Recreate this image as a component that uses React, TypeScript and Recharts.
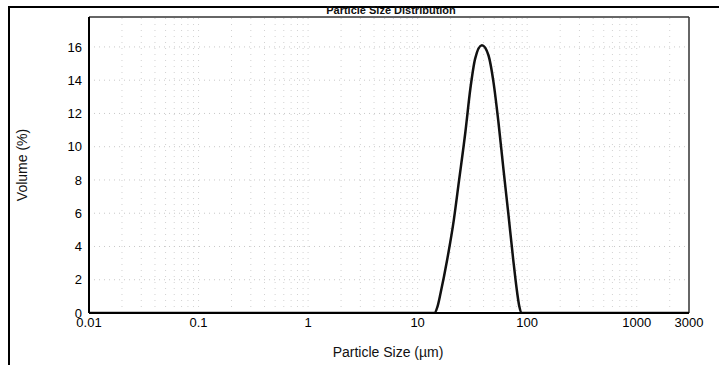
import {
  LineChart,
  Line,
  XAxis,
  YAxis,
  ReferenceLine,
} from "recharts";

// particle size (µm) vs volume (%)
const sizes = [
  0.01, 0.1, 1, 10, 14.2, 15.2, 16.2, 18.6, 21.4, 23.8, 27.3, 30.3, 33.5,
  38.6, 44.3, 49.2, 54.6, 60.6, 67.2, 74.6, 81.1, 84.7, 88.7, 100, 1000, 3000,
];
const volumes = [
  0, 0, 0, 0, 0, 0.4, 1.2, 3.2, 5.6, 7.9, 10.9, 13.5, 15.3, 16.1, 15.5, 13.9,
  11.5, 8.7, 6.0, 3.2, 1.2, 0.4, 0, 0, 0, 0,
];

const xTicks = [0.01, 0.1, 1, 10, 100, 1000, 3000];
const yTicks = [0, 2, 4, 6, 8, 10, 12, 14, 16];
const yMax = 17.8;

// faint dotted grid: every minor log step and every even volume
const minorX = [0.01, 0.1, 1, 10, 100, 1000].flatMap((d) =>
  [1, 2, 3, 4, 5, 6, 7, 8, 9].map((m) => +(d * m).toPrecision(3))
).filter((v) => v > 0.01 && v < 3000);
const gridY = [2, 4, 6, 8, 10, 12, 14, 16];

const data = sizes.map((s, i) => ({ size: s, volume: volumes[i] }));

const font = "'Liberation Sans', Arial, sans-serif";
const tickStyle = { fontSize: 13, fill: "#000", fontFamily: font };

export default function App() {
  return (
    <div
      style={{
        position: "absolute",
        left: 0,
        top: 0,
        width: 719,
        height: 365,
        background: "#fff",
        fontFamily: font,
      }}
    >
      {/* scan frame */}
      <div style={{ position: "absolute", left: 8, top: 6, width: 711, height: 2, background: "#000" }} />
      <div style={{ position: "absolute", left: 8, top: 6, width: 2, height: 359, background: "#000" }} />

      <LineChart
        width={719}
        height={365}
        data={data}
        margin={{ top: 17, right: 30, bottom: 22, left: 49 }}
      >
        <XAxis
          dataKey="size"
          type="number"
          scale="log"
          domain={[0.01, 3000]}
          ticks={xTicks}
          interval={0}
          allowDataOverflow
          height={30}
          tickLine={false}
          tickSize={0}
          tickMargin={5}
          axisLine={{ stroke: "#000", strokeWidth: 2 }}
          tick={tickStyle}
          tickFormatter={(v: number) => String(v)}
        />
        <YAxis
          type="number"
          domain={[0, yMax]}
          ticks={yTicks}
          interval={0}
          allowDataOverflow
          width={40}
          tickLine={false}
          tickSize={0}
          tickMargin={7}
          axisLine={{ stroke: "#000", strokeWidth: 2 }}
          tick={tickStyle}
        />
        {minorX.map((v) => (
          <ReferenceLine key={"x" + v} x={v} stroke="#d2d2d2" strokeDasharray="1 5" />
        ))}
        {gridY.map((v) => (
          <ReferenceLine key={"y" + v} y={v} stroke="#c8c8c8" strokeDasharray="1 4" />
        ))}
        <ReferenceLine y={yMax} stroke="#333" strokeWidth={1.5} />
        <ReferenceLine x={3000} stroke="#333" strokeWidth={1.5} />
        <Line
          type="monotone"
          dataKey="volume"
          stroke="#111"
          strokeWidth={2.5}
          dot={false}
          isAnimationActive={false}
        />
      </LineChart>

      <div
        style={{
          position: "absolute",
          left: 391,
          top: 4,
          transform: "translateX(-50%)",
          fontSize: 11,
          fontWeight: "bold",
          color: "#111",
          whiteSpace: "nowrap",
        }}
      >
        Particle Size Distribution
      </div>
      <div
        style={{
          position: "absolute",
          left: 22,
          top: 165,
          transform: "translate(-50%, -50%) rotate(-90deg)",
          fontSize: 14,
          color: "#111",
          whiteSpace: "nowrap",
        }}
      >
        Volume (%)
      </div>
      <div
        style={{
          position: "absolute",
          left: 388,
          top: 352,
          transform: "translate(-50%, -50%)",
          fontSize: 14,
          color: "#111",
          whiteSpace: "nowrap",
        }}
      >
        Particle Size (µm)
      </div>
    </div>
  );
}
